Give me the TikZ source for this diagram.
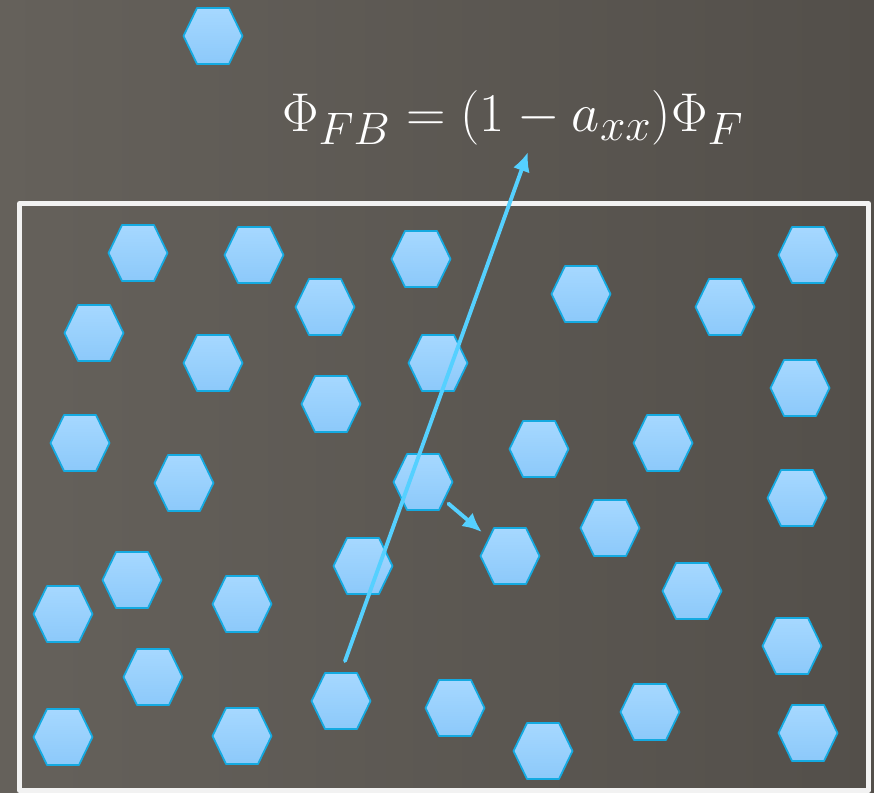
\documentclass[tikz,border=0pt]{standalone}
\usepackage{graphicx}
\usetikzlibrary{arrows.meta}
\definecolor{bgL}{RGB}{101,97,91}
\definecolor{bgR}{RGB}{83,79,74}
\definecolor{cellTop}{RGB}{166,216,255}
\definecolor{cellBot}{RGB}{140,201,250}
\definecolor{cellRim}{RGB}{20,170,225}
\definecolor{ray}{RGB}{85,208,255}
\tikzset{
  cell/.style={draw=cellRim,line width=1pt,top color=cellTop,bottom color=cellBot},
  flow/.style={draw=ray,line width=2.2pt,-{Latex[length=11pt,width=10pt]}},
  frame/.style={draw=white!95!black,line width=2.8pt}
}
\begin{document}
\begin{tikzpicture}[line cap=round,line join=round,x=0.02cm,y=-0.02cm]
  \useasboundingbox (0,0) rectangle (874,793);
  \shade[left color=bgL,right color=bgR] (0,0) rectangle (874,793);
  \draw[frame] (19.5,203.5) rectangle (868.5,790.5);
  % cells
  \foreach \x/\y [count=\i] in {213/36,
      138/253,254/255,421/259,808/255,
      325/307,581/294,725/307,
      94/333,213/363,438/363,800/388,
      331/404,80/443,539/449,663/443,
      184/483,423/482,797/498,610/528,510/556,
      363/566,132/580,63/614,242/604,692/591,
      792/646,153/677,341/701,455/708,650/712,
      63/737,242/736,543/751,808/733}{
    \coordinate (h\i) at (\x,\y);
    \path[cell] (h\i) +(-29.5,0) -- +(-16,28) -- +(16,28) -- +(29.5,0) -- +(16,-28) -- +(-16,-28) -- cycle;
  }
  \node[text=white,font=\Huge,anchor=base] (flux) at (513,132) {\scalebox{1.25}{$\Phi_{FB} = (1 - a_{xx})\Phi_F$}};
  \coordinate (emit) at (345,661);
  \coordinate (hit) at (528,152);
  \draw[flow] (emit) -- (hit);
  \draw[flow,shorten <=19pt,shorten >=21pt] (h18) -- (h21);
\end{tikzpicture}
\end{document}
